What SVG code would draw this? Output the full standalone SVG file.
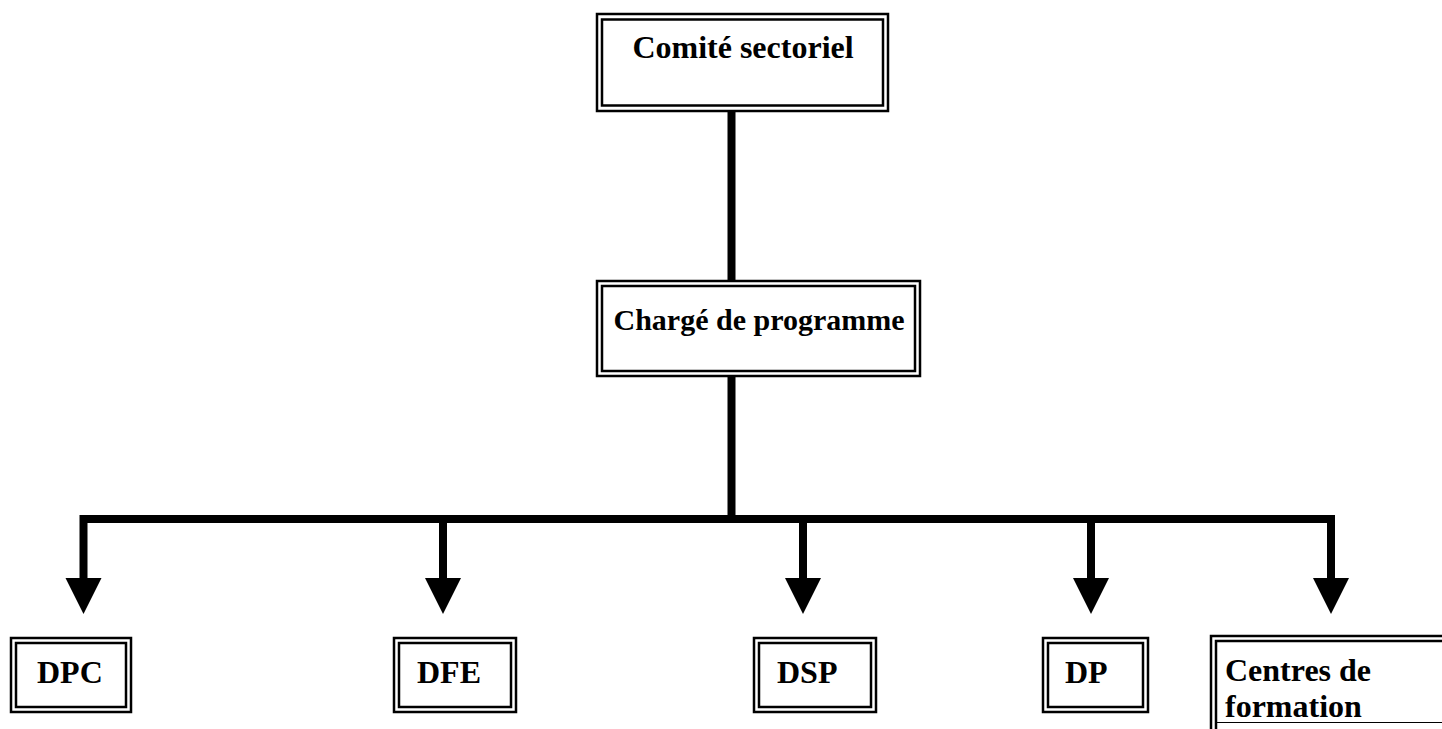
<svg xmlns="http://www.w3.org/2000/svg" width="1442" height="729" viewBox="0 0 1442 729">
<style>
.o{fill:none;stroke:#000;stroke-width:2.5}
.i{fill:none;stroke:#000;stroke-width:2.5}
.t{font-family:"Liberation Serif","Times New Roman",serif;font-weight:bold;font-size:32px;fill:#000}
.c{fill:none;stroke:#000;stroke-width:8}
</style>
<rect width="1442" height="729" fill="#fff"/>
<g id="connectors">
<path class="c" d="M731.5,112 V281"/>
<path class="c" d="M731.5,376 V519"/>
<path class="c" d="M83.5,580 V519 H1331 V580" stroke-linejoin="miter"/>
<path class="c" d="M443,519 V580"/>
<path class="c" d="M803,519 V580"/>
<path class="c" d="M1091,519 V580"/>
<polygon points="65.5,578 101.5,578 83.5,614"/>
<polygon points="425,578 461,578 443,614"/>
<polygon points="785,578 821,578 803,614"/>
<polygon points="1073,578 1109,578 1091,614"/>
<polygon points="1313,578 1349,578 1331,614"/>
</g>
<g id="comite">
<rect class="o" x="597" y="14" width="291" height="97"/>
<rect class="i" x="602" y="19.5" width="281" height="86"/>
<text class="t" x="743" y="58" text-anchor="middle">Comité sectoriel</text>
</g>
<g id="charge">
<rect class="o" x="597" y="281" width="323" height="95"/>
<rect class="i" x="602" y="286" width="313" height="85"/>
<text class="t" x="759" y="330" text-anchor="middle" style="font-size:30px">Chargé de programme</text>
</g>
<g id="dpc">
<rect class="o" x="11" y="638" width="120" height="74"/>
<rect class="i" x="16" y="643" width="110" height="64"/>
<text class="t" x="37" y="683">DPC</text>
</g>
<g id="dfe">
<rect class="o" x="394" y="638" width="122" height="74"/>
<rect class="i" x="399" y="643" width="112" height="64"/>
<text class="t" x="417" y="683">DFE</text>
</g>
<g id="dsp">
<rect class="o" x="754" y="638" width="122" height="74"/>
<rect class="i" x="759" y="643" width="112" height="64"/>
<text class="t" x="777" y="683">DSP</text>
</g>
<g id="dp">
<rect class="o" x="1043" y="638" width="105" height="74"/>
<rect class="i" x="1048" y="643" width="95" height="64"/>
<text class="t" x="1065" y="683">DP</text>
</g>
<g id="centres">
<path class="o" d="M1211,729 V636 H1442"/>
<path class="i" d="M1216,729 V641 H1442"/>
<path d="M1216,722.5 H1442" stroke="#000" stroke-width="1"/>
<text class="t" x="1225" y="681">Centres de</text>
<text class="t" x="1225" y="717">formation</text>
</g>
</svg>
